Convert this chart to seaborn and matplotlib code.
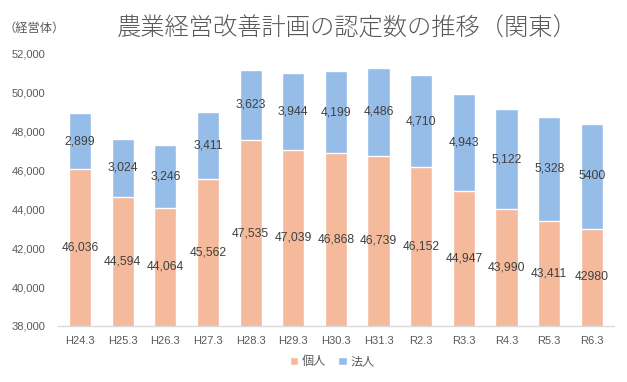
import matplotlib
matplotlib.use("Agg")
import matplotlib.pyplot as plt
import seaborn as sns
import pandas as pd
import numpy as np
from matplotlib.patches import Patch

categories = ["H24.3", "H25.3", "H26.3", "H27.3", "H28.3", "H29.3", "H30.3",
              "H31.3", "R2.3", "R3.3", "R4.3", "R5.3", "R6.3"]
kojin = [46036, 44594, 44064, 45562, 47535, 47039, 46868, 46739, 46152, 44947, 43990, 43411, 42980]
hojin = [2899, 3024, 3246, 3411, 3623, 3944, 4199, 4486, 4710, 4943, 5122, 5328, 5400]
kojin_labels = ["46,036", "44,594", "44,064", "45,562", "47,535", "47,039", "46,868",
                "46,739", "46,152", "44,947", "43,990", "43,411", "42980"]
hojin_labels = ["2,899", "3,024", "3,246", "3,411", "3,623", "3,944", "4,199",
                "4,486", "4,710", "4,943", "5,122", "5,328", "5400"]
yticks = [38000, 40000, 42000, 44000, 46000, 48000, 50000, 52000]

sns.set_theme(style="white")
plt.rcParams['font.family'] = ['Liberation Sans', 'Noto Sans CJK JP', 'DejaVu Sans']

df = pd.DataFrame({"cat": categories, "kojin": kojin, "hojin": hojin})
df["total"] = df["kojin"] + df["hojin"]

c_kojin = "#F4BA9B"
c_hojin = "#95BDE8"

fig = plt.figure(figsize=(6.27, 3.82), dpi=100)
ax = fig.add_axes([0.0925, 0.1466, 0.8865, 0.7144])

sns.barplot(data=df, x="cat", y="total", color=c_hojin, width=0.52,
            saturation=1, ax=ax, order=categories)
sns.barplot(data=df, x="cat", y="kojin", color=c_kojin, width=0.52,
            saturation=1, ax=ax, order=categories)

ymin, ymax = 38000, 52000
ax.set_ylim(ymin, ymax)
ax.set_xlim(-0.515, len(categories) - 0.485)
ax.set_yticks(yticks)
ax.set_yticklabels([f"{v:,}" for v in yticks])
ax.tick_params(axis="both", labelsize=8, colors="#595959", length=0)
ax.tick_params(axis="y", pad=9)
ax.tick_params(axis="x", pad=7)
ax.set_xlabel("")
ax.set_ylabel("")
for s in ["top", "right", "left"]:
    ax.spines[s].set_visible(False)
ax.spines["bottom"].set_color("#D9D9D9")
ax.spines["bottom"].set_linewidth(1)

for i in range(len(categories)):
    yk = (ymin + kojin[i]) / 2
    ax.text(i, yk, kojin_labels[i], ha="center", va="center", fontsize=8.7, color="#404040")
    yh = kojin[i] + hojin[i] / 2
    ax.text(i, yh, hojin_labels[i], ha="center", va="center", fontsize=8.7, color="#404040")

fig.text(0.553, 0.925, "農業経営改善計画の認定数の推移（関東）", ha="center", va="center",
         fontsize=17.5, color="#595959", family=['Noto Sans CJK JP'], weight="light")
fig.text(0.006, 0.925, "（経営体）", ha="left", va="center", fontsize=8.8, color="#595959")

handles = [Patch(facecolor=c_kojin, label="個人"), Patch(facecolor=c_hojin, label="法人")]
fig.legend(handles=handles, loc="center", bbox_to_anchor=(0.53, 0.052), ncol=2,
           frameon=False, fontsize=8.7, handlelength=0.7, handleheight=0.7,
           handletextpad=0.3, columnspacing=1.0, labelcolor="#595959")

fig.savefig("out.png", dpi=100)
